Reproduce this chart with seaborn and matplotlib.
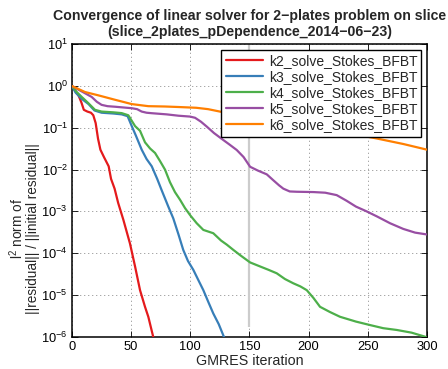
import numpy as np
import pandas as pd
import matplotlib
matplotlib.use("Agg")
import matplotlib.pyplot as plt
import seaborn as sns

# GMRES relative residual histories for each solver configuration
k2_iter = [0, 3, 5.5, 8, 10, 13, 16, 18, 20, 22, 24, 27, 31, 33, 36, 39,
           43.4, 49, 53.3, 57.5, 61.7, 64.5, 69]
k2_res = [1.0, 0.75, 0.6, 0.4, 0.27, 0.245, 0.23, 0.2, 0.13, 0.055, 0.03,
          0.02, 0.012, 0.006, 0.0035, 0.0016, 6.3e-4, 1.7e-4, 4.8e-5,
          1.3e-5, 5.2e-6, 3.0e-6, 9.0e-7]

k3_iter = [0, 3, 8, 14, 19, 25, 35, 42, 47, 50.5, 54, 58.9, 63, 67.4, 72,
           75.8, 81.4, 85.6, 90, 94, 98, 102.5, 107, 111, 115, 119.4, 124,
           129]
k3_res = [1.0, 0.7, 0.5, 0.37, 0.26, 0.23, 0.22, 0.21, 0.19, 0.11, 0.065,
          0.03, 0.018, 0.012, 0.006, 0.0032, 1.3e-3, 6.8e-4, 2.8e-4, 1.2e-4,
          6.5e-5, 4.0e-5, 2.2e-5, 1.3e-5, 7.0e-6, 3.6e-6, 2.0e-6, 9.0e-7]

k4_iter = [0, 4, 8.2, 13.8, 19.4, 25, 35, 42, 47.6, 53.3, 57.5, 61.7, 66,
           70.2, 74.4, 78.6, 82.8, 87, 91.3, 95.5, 100, 105.4, 111, 119.4,
           126, 130.8, 136.3, 142, 150.5, 159, 166, 173, 180, 187, 193,
           198.4, 204, 209.6, 218, 226.5, 240, 251.9, 263, 274.5, 287,
           298.4, 300]
k4_res = [1.0, 0.72, 0.55, 0.39, 0.27, 0.245, 0.235, 0.225, 0.2, 0.11,
          0.085, 0.045, 0.032, 0.025, 0.016, 0.01, 5.0e-3, 2.9e-3, 1.9e-3,
          1.2e-3, 8.0e-4, 5.2e-4, 3.6e-4, 3.0e-4, 2.0e-4, 1.6e-4, 1.2e-4,
          9.0e-5, 6.0e-5, 4.8e-5, 4.0e-5, 3.3e-5, 2.4e-5, 1.9e-5, 1.6e-5,
          1.3e-5, 8.5e-6, 5.2e-6, 3.9e-6, 3.0e-6, 2.3e-6, 1.9e-6, 1.6e-6,
          1.45e-6, 1.25e-6, 1.0e-6, 0.95e-6]

k5_iter = [0, 8, 16.6, 21, 25, 30, 36.3, 50.5, 55, 58.9, 63, 67.4, 80, 90,
           99.7, 104, 109, 113.9, 120, 127.9, 133, 139.2, 145, 150.5, 157,
           164.6, 170, 175, 178.6, 184, 190, 204, 214, 223.7, 232, 240, 249,
           258, 268.8, 280, 290, 300]
k5_res = [1.0, 0.75, 0.55, 0.42, 0.355, 0.33, 0.32, 0.295, 0.28, 0.245,
          0.23, 0.224, 0.21, 0.195, 0.186, 0.174, 0.14, 0.107, 0.075, 0.051,
          0.04, 0.0295, 0.02, 0.0117, 0.0095, 0.0077, 0.0056, 0.0042,
          0.0035, 0.003, 0.00295, 0.0029, 0.0028, 0.00245, 0.0018, 0.0013,
          0.001, 0.00075, 0.00052, 0.00038, 0.00031, 0.00028]

k6_iter = [0, 11, 22.2, 36.3, 50.5, 64.5, 78.6, 90, 105, 115, 125, 140, 150,
           175, 200, 225, 257, 280, 300]
k6_res = [1.0, 0.72, 0.6, 0.47, 0.37, 0.33, 0.324, 0.315, 0.302, 0.28,
          0.245, 0.21, 0.19, 0.145, 0.11, 0.083, 0.056, 0.041, 0.03]

solver_names = ["k2_solve_Stokes_BFBT", "k3_solve_Stokes_BFBT",
                "k4_solve_Stokes_BFBT", "k5_solve_Stokes_BFBT",
                "k6_solve_Stokes_BFBT"]
histories = [(k2_iter, k2_res), (k3_iter, k3_res), (k4_iter, k4_res),
             (k5_iter, k5_res), (k6_iter, k6_res)]

x_ticks = [0, 50, 100, 150, 200, 250, 300]
marker_iter = 150            # iteration highlighted by the vertical bar
marker_span = (1.75e-6, 10)  # vertical extent of that bar

frames = [pd.DataFrame({"iteration": it, "residual": res, "solver": name})
          for name, (it, res) in zip(solver_names, histories)]
df = pd.concat(frames, ignore_index=True)

sns.set_style("ticks")
plt.rcParams["font.family"] = ["Liberation Sans", "DejaVu Sans"]
plt.rcParams["mathtext.fontset"] = "custom"
plt.rcParams["mathtext.rm"] = "Liberation Sans"
plt.rcParams["mathtext.it"] = "Liberation Sans:italic"
plt.rcParams["mathtext.bf"] = "Liberation Sans:bold"
plt.rcParams["mathtext.default"] = "regular"

fig = plt.figure(figsize=(4.48, 3.69), dpi=100)
ax = fig.add_axes([0.1607, 0.0875, 0.7924, 0.7925])

ax.vlines(marker_iter, *marker_span, color="#cccccc", lw=1.6, zorder=1)

palette = sns.color_palette("Set1", 5)
sns.lineplot(data=df, x="iteration", y="residual", hue="solver",
             hue_order=solver_names, palette=palette, linewidth=1.6,
             estimator=None, ax=ax, zorder=3)

ax.set_yscale("log")
ax.set_xlim(0, 300)
ax.set_ylim(1e-6, 10)
ax.set_xticks(x_ticks)
ax.set_yticks([10.0 ** e for e in range(-6, 2)])
ax.yaxis.set_minor_locator(matplotlib.ticker.NullLocator())
ax.tick_params(which="both", direction="in", top=True, right=True,
               labelsize=9.3, length=4, width=0.6, colors="black", pad=3)
ax.grid(True, which="major", linestyle=(0, (0.8, 4)), color="#333333",
        linewidth=0.6)
for s in ax.spines.values():
    s.set_linewidth(1.1)
    s.set_color("black")

ax.set_xlabel("GMRES iteration", fontsize=10.3, labelpad=1)
ax.set_ylabel("l$^2$ norm of\n||residual|| / ||initial residual||",
              fontsize=9.8, linespacing=1.0)
ax.yaxis.set_label_coords(-0.09, 0.37)
ax.set_title("Convergence of linear solver for 2\u2212plates problem on slice\n"
             "(slice_2plates_pDependence_2014\u221206\u221223)",
             fontsize=10.2, fontweight="bold", pad=6)

leg = ax.legend(loc="upper right", fontsize=10, frameon=True, fancybox=False,
                edgecolor="black", framealpha=1, handlelength=2.7,
                borderaxespad=0.4, borderpad=0.3, labelspacing=0.15,
                handletextpad=0.4)
leg.get_frame().set_linewidth(1.0)

fig.savefig("out.png", dpi=100)
